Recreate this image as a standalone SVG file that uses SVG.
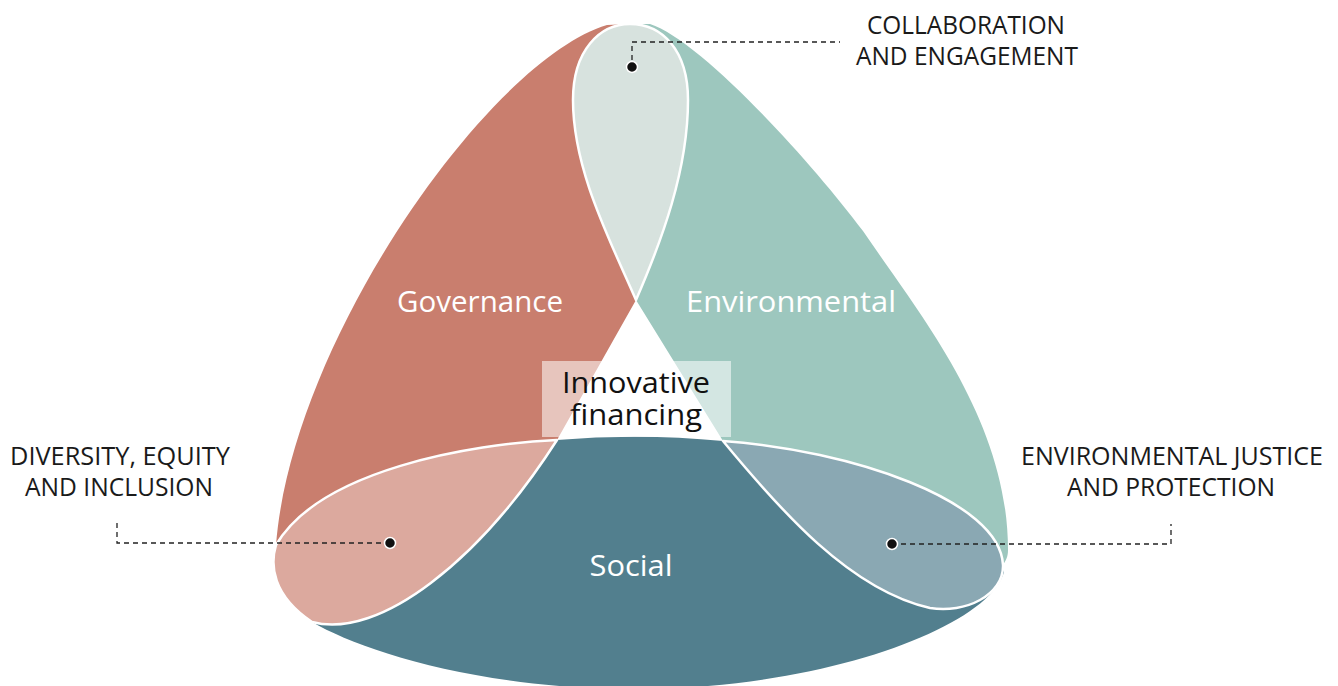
<svg xmlns="http://www.w3.org/2000/svg" width="1338" height="686" viewBox="0 0 1338 686">
<style>
.gov{fill:#C97E6E}
.env{fill:#9DC7BE}
.soc{fill:#527F8E}
.lens{stroke:#FFFFFF;stroke-width:2.5;stroke-linejoin:round}
.lbl{font-family:"Open Sans","Noto Sans",sans-serif;font-size:30px;fill:#FFFFFF;text-anchor:middle}
.ctr{font-family:"Open Sans","Noto Sans",sans-serif;font-size:30px;fill:#111111;text-anchor:middle}
.cap{font-family:"Open Sans","Noto Sans",sans-serif;font-size:25px;fill:#1A1A1A;text-anchor:middle}
.lead{fill:none;stroke:#222222;stroke-width:1.3;stroke-dasharray:5 4}
.dot{fill:#111111;stroke:#FFFFFF;stroke-width:1.5}
</style>
<rect width="1338" height="686" fill="#FFFFFF"/>
<g id="social">
<path class="soc" d="M557,440 Q640,433 723,441 C850,450 1000,500 1003,565 L1004,572 C990,625 830,688 640,689 C480,690 360,650 312,622 C272,595 270,565 276,545 C320,470 470,444 557,440 Z"/>
</g>
<g id="governance">
<path class="gov" d="M636,300 C662,240 688,170 688,100 C688,50 662,24 630,24 L607,25 C490,60 292,340 276,545 C270,565 272,595 312,622 C380,640 480,560 557,440 Z"/>
</g>
<g id="environmental">
<path class="env" d="M636,300 L723,441 C780,510 850,590 930,608 C965,614 1004,595 1003,565 C1006,560 1008,557 1008,550 C1008,420 920,315 863,231 C810,160 700,40 650,24 L630,24 C600,24 573,50 573,100 C573,170 610,240 636,300 Z"/>
</g>
<g id="collaboration-lens">
<path class="lens" fill="#D7E2DE" d="M636,300 C610,240 573,170 573,100 C573,50 600,24 630,24 C662,24 688,50 688,100 C688,170 662,240 636,300 Z"/>
</g>
<g id="dei-lens">
<path class="lens" fill="#DCA99E" d="M557,440 C470,444 320,470 276,545 C270,565 272,595 312,622 C380,640 480,560 557,440 Z"/>
</g>
<g id="ej-lens">
<path class="lens" fill="#8AA8B3" d="M723,441 C850,450 1000,500 1003,565 C1004,595 965,614 930,608 C850,590 780,510 723,441 Z"/>
</g>
<g id="labels">
<text class="lbl" x="480" y="312" textLength="166" lengthAdjust="spacingAndGlyphs">Governance</text>
<text class="lbl" x="791" y="312" textLength="210" lengthAdjust="spacingAndGlyphs">Environmental</text>
<text class="lbl" x="631" y="576" textLength="83" lengthAdjust="spacingAndGlyphs">Social</text>
</g>
<g id="innovative-financing">
<rect x="542" y="361" width="189" height="76" fill="#FFFFFF" fill-opacity="0.55"/>
<text class="ctr" x="636" y="393" textLength="148" lengthAdjust="spacingAndGlyphs">Innovative</text>
<text class="ctr" x="636" y="425" textLength="132" lengthAdjust="spacingAndGlyphs">financing</text>
</g>
<g id="connectors">
<path class="lead" d="M632,60 L632,42 L840,42"/>
<path class="lead" d="M390,543 L117,543 L117,522"/>
<path class="lead" d="M892,544 L1171,544 L1171,524"/>
<circle class="dot" cx="632" cy="67" r="5.5"/>
<circle class="dot" cx="390" cy="543" r="5.5"/>
<circle class="dot" cx="892" cy="544" r="5.5"/>
</g>
<g id="callout-collaboration">
<text class="cap" x="966" y="34" textLength="198" lengthAdjust="spacingAndGlyphs">COLLABORATION</text>
<text class="cap" x="967" y="65" textLength="222" lengthAdjust="spacingAndGlyphs">AND ENGAGEMENT</text>
</g>
<g id="callout-dei">
<text class="cap" x="120" y="465" textLength="220" lengthAdjust="spacingAndGlyphs">DIVERSITY, EQUITY</text>
<text class="cap" x="119" y="496" textLength="188" lengthAdjust="spacingAndGlyphs">AND INCLUSION</text>
</g>
<g id="callout-ej">
<text class="cap" x="1172" y="465" textLength="302" lengthAdjust="spacingAndGlyphs">ENVIRONMENTAL JUSTICE</text>
<text class="cap" x="1171" y="496" textLength="208" lengthAdjust="spacingAndGlyphs">AND PROTECTION</text>
</g>
</svg>
